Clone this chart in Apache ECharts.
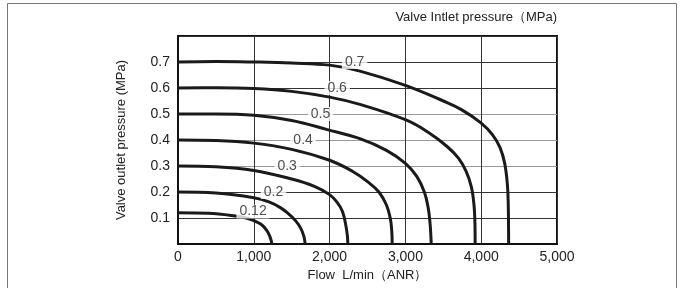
<!DOCTYPE html>
<html>
<head>
<meta charset="utf-8">
<script src="https://cdn.jsdelivr.net/npm/echarts@6/dist/echarts.min.js"></script>
<style>
  html, body { margin: 0; padding: 0; background: #fff; }
  #chart { width: 681px; height: 288px; }
</style>
</head>
<body>
<div id="chart"></div>
<script>
// 各入口压力下的流量特性曲线 [流量 L/min, 出口压力 MPa]
var curve070 = [[0,0.70],[500,0.702],[1000,0.70],[1500,0.696],[2000,0.688],[2400,0.665],[3000,0.61],[3500,0.55],[3750,0.515],[4000,0.465],[4150,0.42],[4250,0.37],[4310,0.31],[4345,0.23],[4357,0.15],[4361,0.05],[4362,0]];
var curve060 = [[0,0.60],[500,0.601],[1000,0.598],[1500,0.587],[2000,0.565],[2400,0.537],[3000,0.478],[3300,0.43],[3550,0.375],[3700,0.33],[3800,0.28],[3870,0.22],[3905,0.15],[3918,0.07],[3920,0]];
var curve050 = [[0,0.50],[500,0.50],[1000,0.495],[1500,0.475],[1970,0.44],[2400,0.405],[2750,0.36],[3000,0.31],[3150,0.26],[3250,0.2],[3300,0.14],[3325,0.08],[3338,0.02],[3340,0]];
var curve040 = [[0,0.40],[500,0.398],[1000,0.388],[1500,0.364],[2000,0.322],[2300,0.28],[2500,0.24],[2650,0.2],[2750,0.15],[2800,0.1],[2820,0.05],[2826,0]];
var curve030 = [[0,0.30],[500,0.297],[1000,0.283],[1500,0.25],[1800,0.222],[2000,0.19],[2100,0.16],[2170,0.125],[2215,0.07],[2235,0.03],[2240,0]];
var curve020 = [[0,0.20],[500,0.196],[1000,0.178],[1200,0.162],[1350,0.14],[1450,0.118],[1550,0.09],[1620,0.06],[1660,0.03],[1678,0]];
var curve012 = [[0,0.12],[400,0.118],[800,0.106],[900,0.1],[1000,0.09],[1100,0.075],[1170,0.052],[1210,0.03],[1232,0.01],[1236,0]];

// 曲线上的标注
var labelText = ['0.7', '0.6', '0.5', '0.4', '0.3', '0.2', '0.12'];
var labelFlow = [2330, 2100, 1880, 1650, 1440, 1260, 990];
var labelPress = [0.7, 0.6, 0.5, 0.4, 0.3, 0.2, 0.125];

// 刻度文字
var xTickLabels = ['0', '1,000', '2,000', '3,000', '4,000', '5,000'];
var yTickLabels = ['', '0.1', '0.2', '0.3', '0.4', '0.5', '0.6', '0.7', ''];

var curves = [curve070, curve060, curve050, curve040, curve030, curve020, curve012];
var font = 'Liberation Sans, Arial, sans-serif';

var chart = echarts.init(document.getElementById('chart'));

var series = curves.map(function (c) {
  return {
    type: 'line',
    data: c,
    smooth: 0.4,
    symbol: 'none',
    lineStyle: { color: '#1a1a1a', width: 3 },
    z: 3
  };
});

series.push({
  type: 'scatter',
  symbolSize: 0,
  z: 6,
  data: labelFlow.map(function (f, i) { return [f, labelPress[i], labelText[i]]; }),
  label: {
    show: true,
    position: 'inside',
    formatter: function (p) { return p.data[2]; },
    fontFamily: font,
    fontSize: 14,
    color: '#222',
    backgroundColor: '#fff',
    padding: [0, 3]
  }
});

var option = {
  animation: false,
  backgroundColor: '#fff',
  grid: {
    left: 178, right: 124, top: 36, bottom: 44,
    show: true, borderColor: '#111', borderWidth: 2
  },
  graphic: [{
    type: 'rect',
    shape: { x: 7.5, y: 3.5, width: 669, height: 290 },
    style: { fill: 'none', stroke: '#777', lineWidth: 1 },
    silent: true
  }, {
    type: 'text',
    right: 124, top: 11,
    style: {
      text: 'Valve Intlet pressure（MPa)',
      font: '13px "Liberation Sans Narrow", "Liberation Sans", Arial, sans-serif',
      fill: '#222'
    }
  }],
  xAxis: {
    type: 'value',
    min: 0, max: 5000, interval: 1000,
    name: 'Flow  L/min（ANR）',
    nameLocation: 'middle',
    nameGap: 24,
    nameTextStyle: { fontFamily: font, fontSize: 13, color: '#222' },
    axisLine: { lineStyle: { color: '#111', width: 2 } },
    axisTick: { show: false },
    axisLabel: {
      margin: 6,
      fontFamily: font, fontSize: 14, color: '#222',
      formatter: function (v) { return xTickLabels[Math.round(v / 1000)]; }
    },
    splitLine: { show: true, lineStyle: { color: '#333', width: 1 } }
  },
  yAxis: {
    type: 'value',
    min: 0, max: 0.8, interval: 0.1,
    name: 'Valve outlet pressure (MPa)',
    nameLocation: 'middle',
    nameGap: 50,
    nameRotate: 90,
    nameTextStyle: { fontFamily: font, fontSize: 13, color: '#222' },
    axisLine: { show: true, lineStyle: { color: '#111', width: 2 } },
    axisTick: { show: false },
    axisLabel: {
      margin: 8,
      fontFamily: font, fontSize: 14, color: '#222',
      formatter: function (v) { return yTickLabels[Math.round(v * 10)]; }
    },
    splitLine: {
      show: true,
      lineStyle: { color: ['#333', '#333', '#333', '#999', '#999', '#999', '#333', '#333', '#333'], width: 1 }
    }
  },
  series: series
};

chart.setOption(option);
</script>
</body>
</html>
